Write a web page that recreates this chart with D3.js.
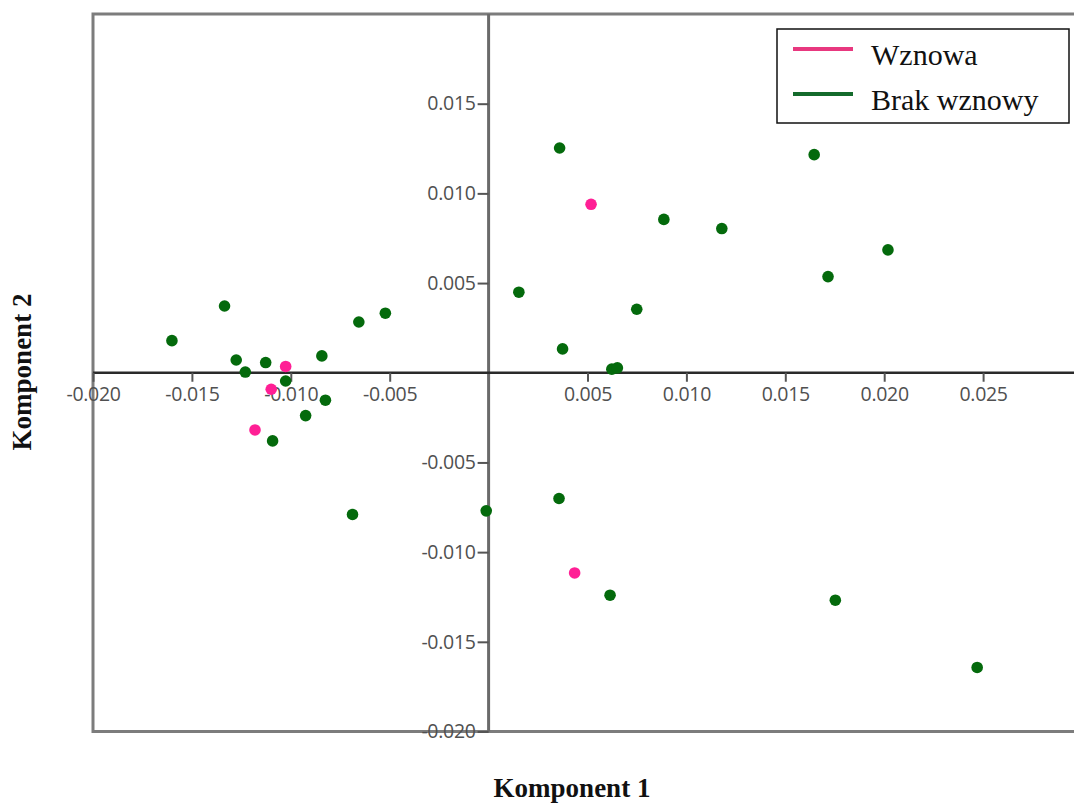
<!DOCTYPE html>
<html>
<head>
<meta charset="utf-8">
<script src="https://cdn.jsdelivr.net/npm/d3@7"></script>
<style>
  body { margin: 0; background: #fff; overflow: hidden; }
</style>
</head>
<body>
<div id="chart"></div>
<script>
// series: Wznowa (pink) / Brak wznowy (green)
let seriesNames = ["Wznowa", "Brak wznowy"];

let pinkX = [-0.01026, -0.01099, -0.01181, 0.00518, 0.00435];
let pinkY = [ 0.00035, -0.00092, -0.00319, 0.00939, -0.01116];

let greenX = [-0.01601, -0.01335, -0.01276, -0.01230, -0.01127, -0.01026, -0.00843, -0.00825,
              -0.00925, -0.01092, -0.00656, -0.00522, -0.00688, -0.00012, 0.00153, 0.00359,
               0.00374, 0.00623, 0.00651, 0.00749, 0.00886, 0.01179, 0.01646, 0.01716,
               0.02019, 0.00356, 0.00614, 0.01753, 0.02470];
let greenY = [ 0.00179, 0.00372, 0.00071, 0.00004, 0.00057, -0.00046, 0.00094, -0.00153,
              -0.00239, -0.00380, 0.00283, 0.00332, -0.00790, -0.00770, 0.00449, 0.01253,
               0.00133, 0.00020, 0.00027, 0.00354, 0.00855, 0.00804, 0.01216, 0.00536,
               0.00685, -0.00701, -0.01240, -0.01268, -0.01643];

let xTicks = [-0.020, -0.015, -0.010, -0.005, 0.005, 0.010, 0.015, 0.020, 0.025];
let yTicks = [-0.020, -0.015, -0.010, -0.005, 0.005, 0.010, 0.015];

let width = 1074, height = 805;
let frame = {left: 93, top: 14, right: 1082, bottom: 731.5};

let svg = d3.select("#chart").append("svg")
    .attr("width", width)
    .attr("height", height);

let x = d3.scaleLinear().domain([-0.020, 0.030]).range([frame.left, frame.right]);
let y = d3.scaleLinear().domain([-0.020, 0.020]).range([frame.bottom, frame.top]);

let fmt = function(d){ return d.toFixed(3); };

// outer frame (right side is cut off in the original)
svg.append("path")
    .attr("d", "M" + (frame.right + 10) + "," + frame.top + "H" + frame.left + "V" + frame.bottom + "H" + (frame.right + 10))
    .attr("fill", "none")
    .attr("stroke", "#7c7c7c")
    .attr("stroke-width", 3);

// zero lines
svg.append("line")
    .attr("x1", x(0)).attr("x2", x(0))
    .attr("y1", frame.top).attr("y2", frame.bottom)
    .attr("stroke", "#6a6a6a").attr("stroke-width", 3);

svg.append("line")
    .attr("x1", frame.left).attr("x2", width + 10)
    .attr("y1", y(0)).attr("y2", y(0))
    .attr("stroke", "#2a2a2a").attr("stroke-width", 2.5);

let xAxis = svg.append("g").attr("class", "axis axis--x")
    .attr("transform", "translate(0," + y(0) + ")")
    .call(d3.axisBottom(x).tickValues(xTicks).tickFormat(fmt).tickSize(9).tickPadding(5));

let yAxis = svg.append("g").attr("class", "axis axis--y")
    .attr("transform", "translate(" + x(0) + ",0)")
    .call(d3.axisLeft(y).tickValues(yTicks).tickFormat(fmt).tickSize(11).tickPadding(2));

svg.selectAll(".axis .domain").remove();
svg.selectAll(".axis .tick line").attr("stroke", "#555").attr("stroke-width", 2);
svg.selectAll(".axis .tick text")
    .attr("font-family", "'Open Sans', sans-serif")
    .attr("font-size", 19.5)
    .attr("letter-spacing", -0.3)
    .attr("fill", "#505050");
xAxis.selectAll(".tick text").attr("dy", "0.72em");

// points
let green = greenX.map(function(d, i){ return {x: d, y: greenY[i]}; });
let pink = pinkX.map(function(d, i){ return {x: d, y: pinkY[i]}; });

svg.append("g").selectAll("circle")
    .data(green).enter()
    .append("circle")
        .attr("cx", function(d){ return x(d.x); })
        .attr("cy", function(d){ return y(d.y); })
        .attr("r", 5.8)
        .attr("fill", "#046a0c");

svg.append("g").selectAll("circle")
    .data(pink).enter()
    .append("circle")
        .attr("cx", function(d){ return x(d.x); })
        .attr("cy", function(d){ return y(d.y); })
        .attr("r", 5.8)
        .attr("fill", "#ff1f95");

// axis titles
svg.append("text")
    .text("Komponent 1")
    .attr("x", 572).attr("y", 797)
    .attr("text-anchor", "middle")
    .attr("font-family", "'Liberation Serif', 'Times New Roman', serif")
    .attr("font-weight", "bold")
    .attr("font-size", 27)
    .attr("fill", "#111");

svg.append("text")
    .text("Komponent 2")
    .attr("transform", "translate(31,372) rotate(-90)")
    .attr("text-anchor", "middle")
    .attr("font-family", "'Liberation Serif', 'Times New Roman', serif")
    .attr("font-weight", "bold")
    .attr("font-size", 27)
    .attr("fill", "#111");

// legend
let legendColors = ["#e8387f", "#146b2c"];
let legend = svg.append("g").attr("transform", "translate(777,29)");
legend.append("rect")
    .attr("x", 0).attr("y", 0)
    .attr("width", 292).attr("height", 94)
    .attr("fill", "#fff")
    .attr("stroke", "#111")
    .attr("stroke-width", 1.5);

seriesNames.forEach(function(name, i){
    let row = legend.append("g").attr("transform", "translate(0," + (20 + i * 45) + ")");
    row.append("line")
        .attr("x1", 16).attr("x2", 76)
        .attr("y1", 0).attr("y2", 0)
        .attr("stroke", legendColors[i])
        .attr("stroke-width", 4);
    row.append("text")
        .text(name)
        .attr("x", 94).attr("y", 16)
        .attr("font-family", "'Liberation Serif', 'Times New Roman', serif")
        .attr("font-size", 30)
        .attr("fill", "#111");
});
</script>
</body>
</html>
